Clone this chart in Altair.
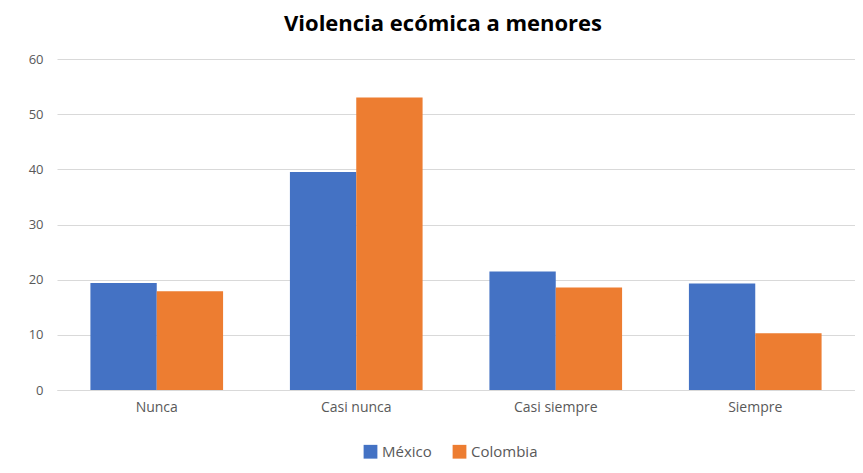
import altair as alt
import pandas as pd

categorias = ["Nunca", "Casi nunca", "Casi siempre", "Siempre"]
mexico = [19.4, 39.5, 21.5, 19.3]
colombia = [17.9, 53.0, 18.6, 10.3]
series = ["México", "Colombia"]
colores = ["#4472C4", "#ED7D31"]

rows = []
for c, m, co in zip(categorias, mexico, colombia):
    rows.append({"categoria": c, "serie": "México", "valor": m})
    rows.append({"categoria": c, "serie": "Colombia", "valor": co})
df = pd.DataFrame(rows)

font = "Open Sans"

chart = alt.Chart(df).mark_bar().encode(
    x=alt.X("categoria:N", sort=categorias, title=None,
            scale=alt.Scale(paddingInner=0.335, paddingOuter=0.1675),
            axis=alt.Axis(labelAngle=0, ticks=False, domainColor="#d9d9d9",
                          labelColor="#595959", labelFontSize=14, labelFont=font,
                          labelPadding=10)),
    xOffset=alt.XOffset("serie:N", sort=series),
    y=alt.Y("valor:Q", title=None,
            scale=alt.Scale(domain=[0, 60]),
            axis=alt.Axis(values=[0, 10, 20, 30, 40, 50, 60], ticks=False, domain=False,
                          gridColor="#d9d9d9", labelColor="#595959", labelFontSize=13,
                          labelFont=font, labelPadding=14)),
    color=alt.Color("serie:N", sort=series,
                    scale=alt.Scale(domain=series, range=colores),
                    legend=alt.Legend(title=None, orient="none", direction="horizontal",
                                      legendX=306, legendY=385,
                                      symbolType="square", symbolSize=190,
                                      symbolStrokeWidth=0, labelFont=font,
                                      labelFontSize=15, labelColor="#595959",
                                      columnPadding=20, labelOffset=4)),
).properties(
    width=798,
    height=331,
    title=alt.TitleParams("Violencia ecómica a menores", fontSize=22, font=font,
                          fontWeight="bold", color="#000000", anchor="middle",
                          offset=17, dx=-13),
    autosize=alt.AutoSizeParams(type="none"),
    padding={"left": 49, "top": 51, "right": 0, "bottom": 78},
).configure_view(stroke=None)

chart.save("out.html", embed_options={"renderer": "svg", "actions": False})
